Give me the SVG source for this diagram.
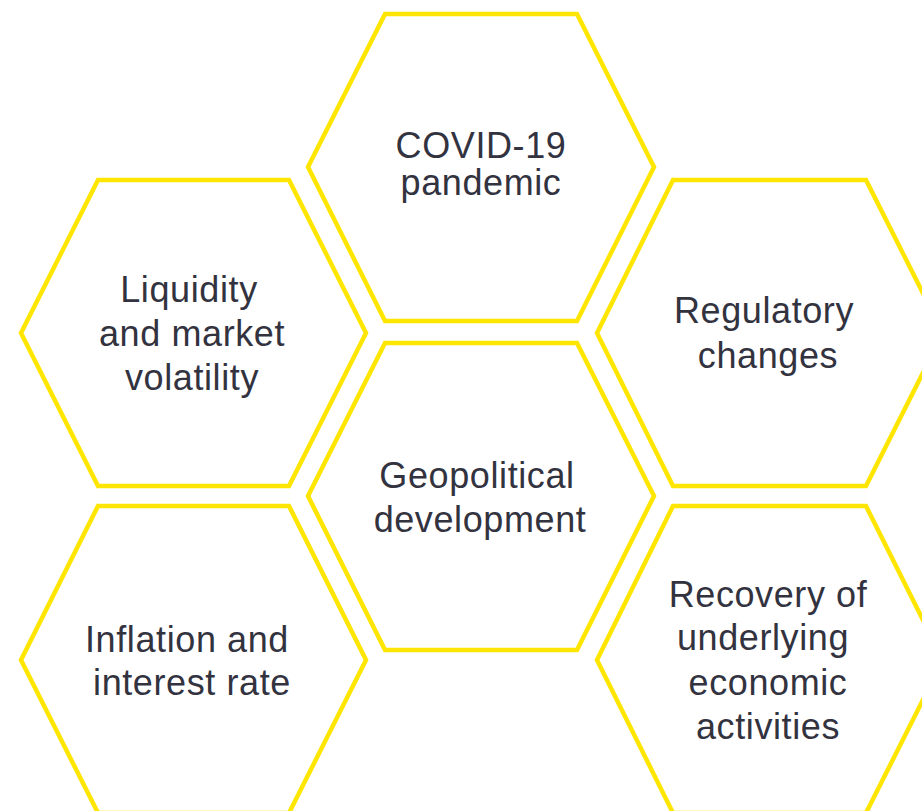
<svg xmlns="http://www.w3.org/2000/svg" width="922" height="811" viewBox="0 0 922 811">
<style>
.hex{fill:#FFFFFF;stroke:#FFE600;stroke-width:4.5;stroke-linejoin:miter}
.t{font-family:"Liberation Sans",Arial,sans-serif;font-size:36px;fill:#33333F;text-anchor:middle;letter-spacing:0.6px}
</style>
<rect width="922" height="811" fill="#FFFFFF"/>
<g id="connectors"></g>
<g id="covid">
<polygon class="hex" points="385,14 577,14 654,167 577,321 385,321 308,167"/>
<text class="t" x="481" y="158">COVID-19</text>
<text class="t" x="481" y="195">pandemic</text>
</g>
<g id="liquidity">
<polygon class="hex" points="98,180 289,180 366,333 289,486 98,486 21,333"/>
<text class="t" x="189" y="302">Liquidity</text>
<text class="t" x="192" y="346">and market</text>
<text class="t" x="192" y="390">volatility</text>
</g>
<g id="regulatory">
<polygon class="hex" points="673,180 866,180 943,333 866,486 673,486 597,333"/>
<text class="t" x="764" y="323">Regulatory</text>
<text class="t" x="768" y="368">changes</text>
</g>
<g id="geopolitical">
<polygon class="hex" points="385,343 577,343 654,496 577,650 385,650 308,496"/>
<text class="t" x="477" y="488">Geopolitical</text>
<text class="t" x="480" y="532">development</text>
</g>
<g id="inflation">
<polygon class="hex" points="98,506 289,506 366,660 289,813 98,813 21,660"/>
<text class="t" x="187" y="652">Inflation and</text>
<text class="t" x="192" y="695">interest rate</text>
</g>
<g id="recovery">
<polygon class="hex" points="673,506 866,506 943,660 866,813 673,813 597,660"/>
<text class="t" x="768" y="607">Recovery of</text>
<text class="t" x="763" y="650">underlying</text>
<text class="t" x="768" y="695">economic</text>
<text class="t" x="768" y="739">activities</text>
</g>
</svg>
